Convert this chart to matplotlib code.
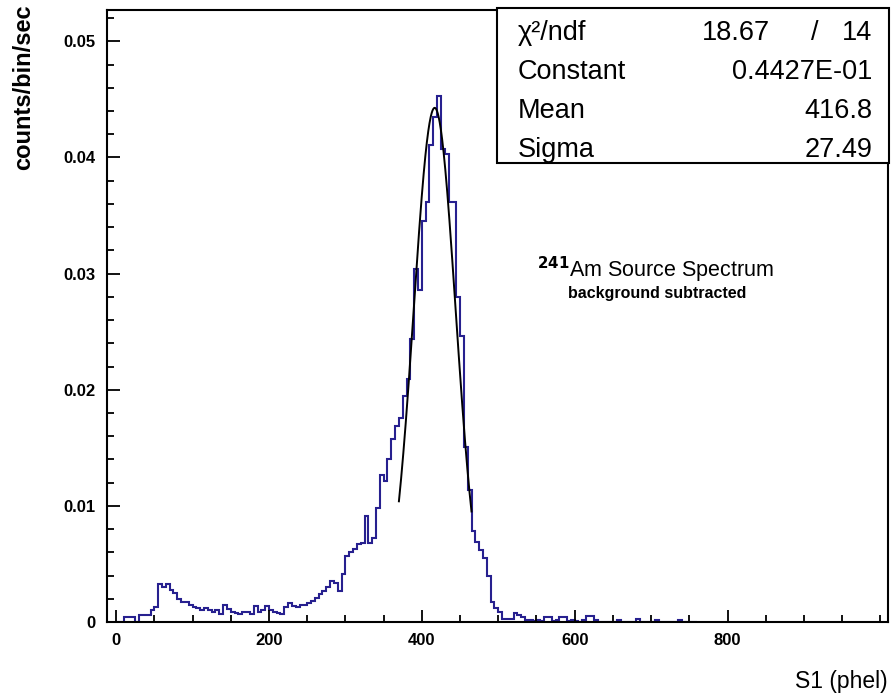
import numpy as np
import matplotlib
matplotlib.use("Agg")
import matplotlib.pyplot as plt
from matplotlib.patches import Rectangle
from matplotlib.ticker import MultipleLocator, FixedLocator

plt.rcParams['font.family'] = ['Liberation Sans', 'DejaVu Sans']

# S1 spectrum, 5 phel bins starting at 0 (counts/bin/sec)
bin_width = 5
counts = [
    0, 0, .0004, .0004, .0004, 0, .0006, .0006, .0006, .0010, .0013, .0033, .0030, .0033, .0028, .0025, .0020, .0017, .0017, .0015,
    .0013, .0012, .0010, .0012, .0010, .0009, .0010, .0007, .0015, .0011, .0009, .0008, .0007, .0009, .0009, .0007, .0014, .0009, .0010, .0014,
    .0010, .0009, .0008, .0007, .0013, .0016, .0014, .0013, .0015, .0015, .0016, .0018, .0021, .0024, .0027, .0030, .0035, .0034, .0027, .0041,
    .0057, .0060, .0063, .0067, .0068, .0091, .0068, .0072, .0098, .0127, .0121, .0140, .0158, .0169, .0176, .0195, .0209, .0244, .0304, .0286,
    .0345, .0362, .0411, .0435, .0453, .0407, .0403, .0362, .0362, .0280, .0246, .0151, .0114, .0078, .0069, .0062, .0055, .0040, .0017, .0012,
    .0009, .0003, .0003, .0003, .0008, .0006, .0004, .0002, .0002, .0001, .0002, .0001, .0004, .0004, .0001, .0002, .0004, .0004, .0001, .0002,
    .0001, 0, .0002, .0005, .0005, .0002, 0, 0, 0, 0, 0, .0002, 0, 0, 0, 0, .0003, 0, 0, 0,
    0, .0002, 0, 0, 0, 0, 0, .0002, 0, 0, 0, 0,
]

# gaussian fit results shown in the stats box
fit_const = 0.04427
fit_mean = 416.8
fit_sigma = 27.49
fit_range = (370, 465)
chi2, ndf = 18.67, 14

x_labels = [0, 200, 400, 600, 800]
hist_color = '#27208f'


def draw_stats(ax):
    box = Rectangle((0.499, 0.75), 0.502, 0.253, transform=ax.transAxes,
                    facecolor='white', edgecolor='black', lw=1.5, clip_on=False, zorder=5)
    ax.add_patch(box)
    rows = [0.963, 0.899, 0.835, 0.771]
    names = ['χ²/ndf', 'Constant', 'Mean', 'Sigma']
    vals = [None, '0.4427E-01', '%.1f' % fit_mean, '%.2f' % fit_sigma]
    kw = dict(transform=ax.transAxes, fontsize=19.5, va='center', zorder=6)
    for y, name, val in zip(rows, names, vals):
        ax.text(0.526, y, name, ha='left', **kw)
        if val is not None:
            ax.text(0.98, y, val, ha='right', **kw)
    ax.text(0.849, rows[0], '%.2f' % chi2, ha='right', **kw)
    ax.text(0.906, rows[0], '/', ha='center', **kw)
    ax.text(0.98, rows[0], '%d' % ndf, ha='right', **kw)


def main():
    fig = plt.figure(figsize=(8.93, 6.94), dpi=100)
    ax = fig.add_axes([0.1198, 0.1037, 0.8746, 0.882])

    edges = np.arange(len(counts) + 1) * bin_width
    ax.stairs(counts, edges, color=hist_color, lw=1.5, baseline=0)

    xf = np.linspace(fit_range[0], fit_range[1], 300)
    ax.plot(xf, fit_const * np.exp(-0.5 * ((xf - fit_mean) / fit_sigma) ** 2), color='black', lw=1.4)

    ax.set_xlim(-12, 1010)
    ax.set_ylim(0, 0.0527)
    ax.xaxis.set_major_locator(FixedLocator(x_labels))
    ax.xaxis.set_minor_locator(MultipleLocator(50))
    ax.yaxis.set_major_locator(MultipleLocator(0.01))
    ax.yaxis.set_minor_locator(MultipleLocator(0.002))
    ax.yaxis.set_major_formatter(plt.FuncFormatter(lambda v, p: '0' if v == 0 else '%.2f' % v))
    ax.tick_params(which='both', direction='in', top=False, right=False, width=1.3)
    ax.tick_params(which='major', length=9, labelsize=12, pad=8)
    ax.tick_params(which='minor', length=5)
    for lab in ax.get_xticklabels() + ax.get_yticklabels():
        lab.set_fontweight('bold')
    for sp in ax.spines.values():
        sp.set_linewidth(1.5)

    fig.text(0.014, 0.993, 'counts/bin/sec', rotation=90, ha='left', va='top', fontsize=17, fontweight='bold')
    fig.text(0.994, 0.002, 'S1 (phel)', ha='right', va='bottom', fontsize=16.5)

    ax.text(0.551, 0.575, r'$^{\mathbf{241}}$Am Source Spectrum', transform=ax.transAxes, fontsize=15.5, ha='left', va='center')
    ax.text(0.59, 0.536, 'background subtracted', transform=ax.transAxes, fontsize=11.5, fontweight='bold', ha='left', va='center')

    draw_stats(ax)
    fig.savefig('out.png', dpi=100)


if __name__ == "__main__":
    main()
